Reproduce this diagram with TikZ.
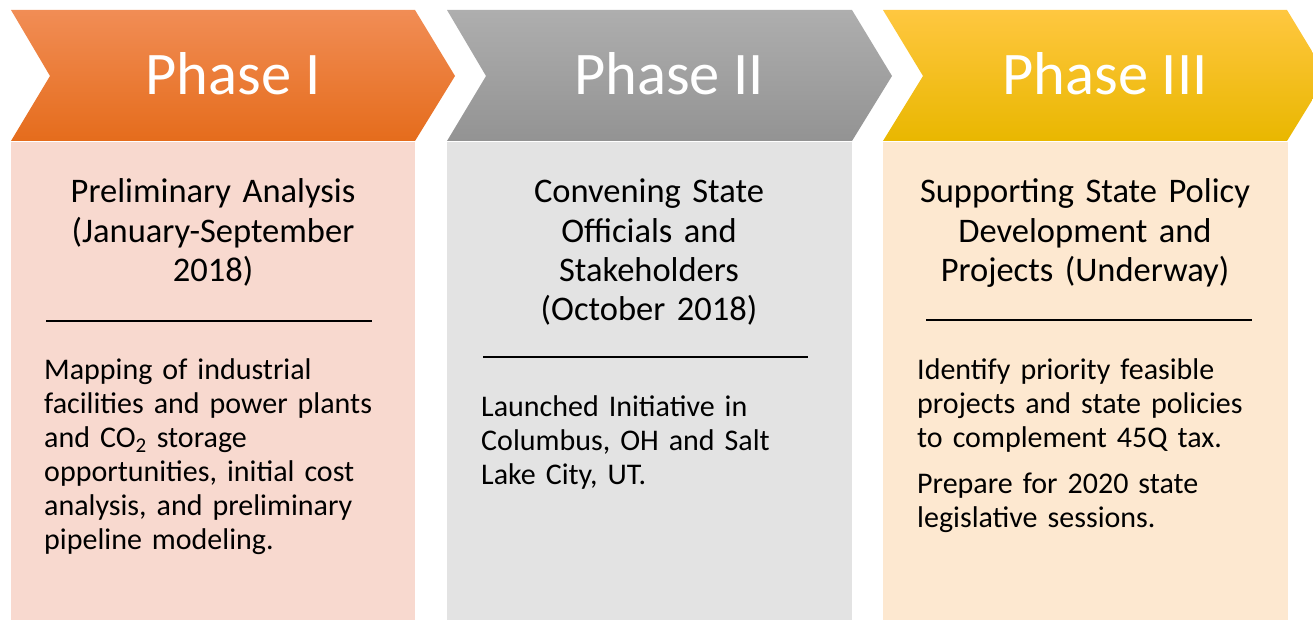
\documentclass[tikz,border=0pt]{standalone}
\usepackage{fontspec}
\setmainfont{Carlito}

\definecolor{orangetop}{RGB}{241,141,85}
\definecolor{orangemid}{RGB}{245,128,46}
\definecolor{orangebot}{RGB}{229,108,28}
\definecolor{graytop}{RGB}{174,174,174}
\definecolor{graybot}{RGB}{147,147,147}
\definecolor{yellowtop}{RGB}{255,199,64}
\definecolor{yellowmid}{RGB}{255,194,10}
\definecolor{yellowbot}{RGB}{233,183,0}
\definecolor{pinkbox}{RGB}{248,217,207}
\definecolor{graybox}{RGB}{227,227,227}
\definecolor{creambox}{RGB}{253,232,208}

\tikzset{
    phasetitle/.style={text=white, anchor=base, inner sep=0pt, font=\fontsize{60.5}{70}\selectfont},
    heading/.style={text width=380pt, align=center, anchor=base, inner sep=0pt, font=\fontsize{34.5}{39.2}\selectfont},
    bodytext/.style={text width=360pt, align=left, anchor=base west, inner sep=0pt, font=\fontsize{30}{34}\selectfont},
    rule/.style={line width=1.6pt, black}
}

\begin{document}
\begin{tikzpicture}[x=1pt,y=-1pt]
    \clip (0,0) rectangle (1313,620);

    % boxes
    \fill[pinkbox] (11,142) rectangle (415,620);
    \fill[graybox] (447,142) rectangle (852,620);
    \fill[creambox] (883,142) rectangle (1288,620);

    % chevrons
    \shade[top color=orangetop, middle color=orangemid, bottom color=orangebot]
        (11,10) -- (415,10) -- (455,76) -- (415,141) -- (11,141) -- (50,76) -- cycle;
    \shade[top color=graytop, bottom color=graybot]
        (447,10) -- (852,10) -- (892,76) -- (852,141) -- (447,141) -- (486,76) -- cycle;
    \shade[top color=yellowtop, middle color=yellowmid, bottom color=yellowbot]
        (883,10) -- (1287,10) -- (1327,76) -- (1287,141) -- (883,141) -- (923,76) -- cycle;

    \node[phasetitle] (p1) at (233,95) {Phase I};
    \node[phasetitle] (p2) at (669,95) {Phase II};
    \node[phasetitle] (p3) at (1105,95) {Phase III};

    % headings
    \node[heading] (h1) at (213,203) {Preliminary Analysis\\(January-September\\2018)};
    \node[heading] (h2) at (649,203) {Convening State\\Officials and\\Stakeholders\\(October 2018)};
    \node[heading] (h3) at (1085,203) {Supporting State Policy\\Development and\\Projects (Underway)};

    \draw[rule] (46,321) -- (372,321);
    \draw[rule] (483,357) -- (808,357);
    \draw[rule] (926,320) -- (1252,320);

    % details
    \node[bodytext] (d1) at (44,379) {Mapping of industrial\\facilities and power plants\\and CO\textsubscript{2} storage\\opportunities, initial cost\\analysis, and preliminary\\pipeline modeling.};
    \node[bodytext] (d2) at (481,416) {Launched Initiative in\\Columbus, OH and Salt\\Lake City, UT.};
    \node[bodytext] (d3) at (917,379) {Identify priority feasible\\projects and state policies\\to complement 45Q tax.\\[12pt]Prepare for 2020 state\\legislative sessions.};

\end{tikzpicture}
\end{document}
